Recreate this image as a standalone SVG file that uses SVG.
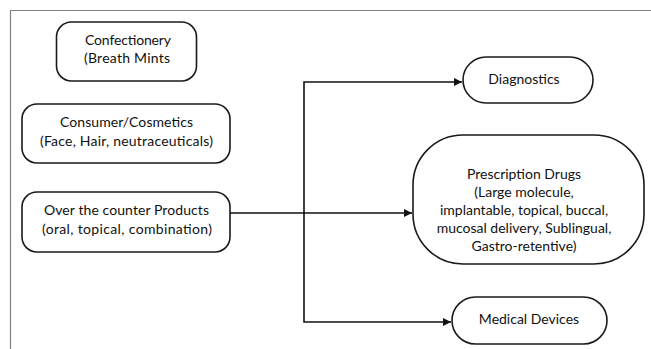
<svg xmlns="http://www.w3.org/2000/svg" width="651" height="349" viewBox="0 0 651 349">
<style>
.box{fill:#fff;stroke:#1a1a1a;stroke-width:1.6}
.t{font-family:Lato,"Liberation Sans",sans-serif;font-size:14px;fill:#111;text-anchor:middle}
.c{fill:none;stroke:#111;stroke-width:1.6}
</style>
<defs>
<marker id="ah" viewBox="0 0 10 10" refX="10" refY="5" markerWidth="5" markerHeight="5" orient="auto" markerUnits="strokeWidth">
<path d="M0,0 L10,5 L0,10 z" fill="#111"/>
</marker>
</defs>
<rect width="651" height="349" fill="#fff"/>
<path d="M10.5,349 V10.5 H651" fill="none" stroke="#808080" stroke-width="1.2"/>
<g id="confectionery">
<rect class="box" x="56.5" y="22" width="140" height="59" rx="15"/>
<text class="t" x="128" y="45" textLength="86">Confectionery</text>
<text class="t" x="127" y="63" textLength="86">(Breath Mints</text>
</g>
<g id="consumer">
<rect class="box" x="22" y="104" width="208" height="59" rx="15"/>
<text class="t" x="126.5" y="127" textLength="133">Consumer/Cosmetics</text>
<text class="t" x="126.5" y="146" textLength="173">(Face, Hair, neutraceuticals)</text>
</g>
<g id="otc">
<rect class="box" x="22" y="192" width="208" height="60" rx="15"/>
<text class="t" x="126.5" y="215" textLength="165">Over the counter Products</text>
<text class="t" x="127" y="234" textLength="170">(oral, topical, combination)</text>
</g>
<g id="diagnostics">
<rect class="box" x="463" y="57" width="130" height="46" rx="23"/>
<text class="t" x="524" y="84">Diagnostics</text>
</g>
<g id="prescription">
<rect class="box" x="413" y="135" width="231" height="129" rx="50"/>
<text class="t" x="524" y="179">Prescription Drugs</text>
<text class="t" x="524" y="197">(Large molecule,</text>
<text class="t" x="524" y="215">implantable, topical, buccal,</text>
<text class="t" x="524" y="233">mucosal delivery, Sublingual,</text>
<text class="t" x="524" y="251">Gastro-retentive)</text>
</g>
<g id="medical">
<rect class="box" x="452" y="297" width="155" height="47" rx="23.5"/>
<text class="t" x="529" y="324">Medical Devices</text>
</g>
<g id="connectors">
<path class="c" d="M230,213 H412" marker-end="url(#ah)"/>
<path class="c" d="M304,213 V82 H462" marker-end="url(#ah)"/>
<path class="c" d="M304,213 V322 H451" marker-end="url(#ah)"/>
</g>
</svg>
